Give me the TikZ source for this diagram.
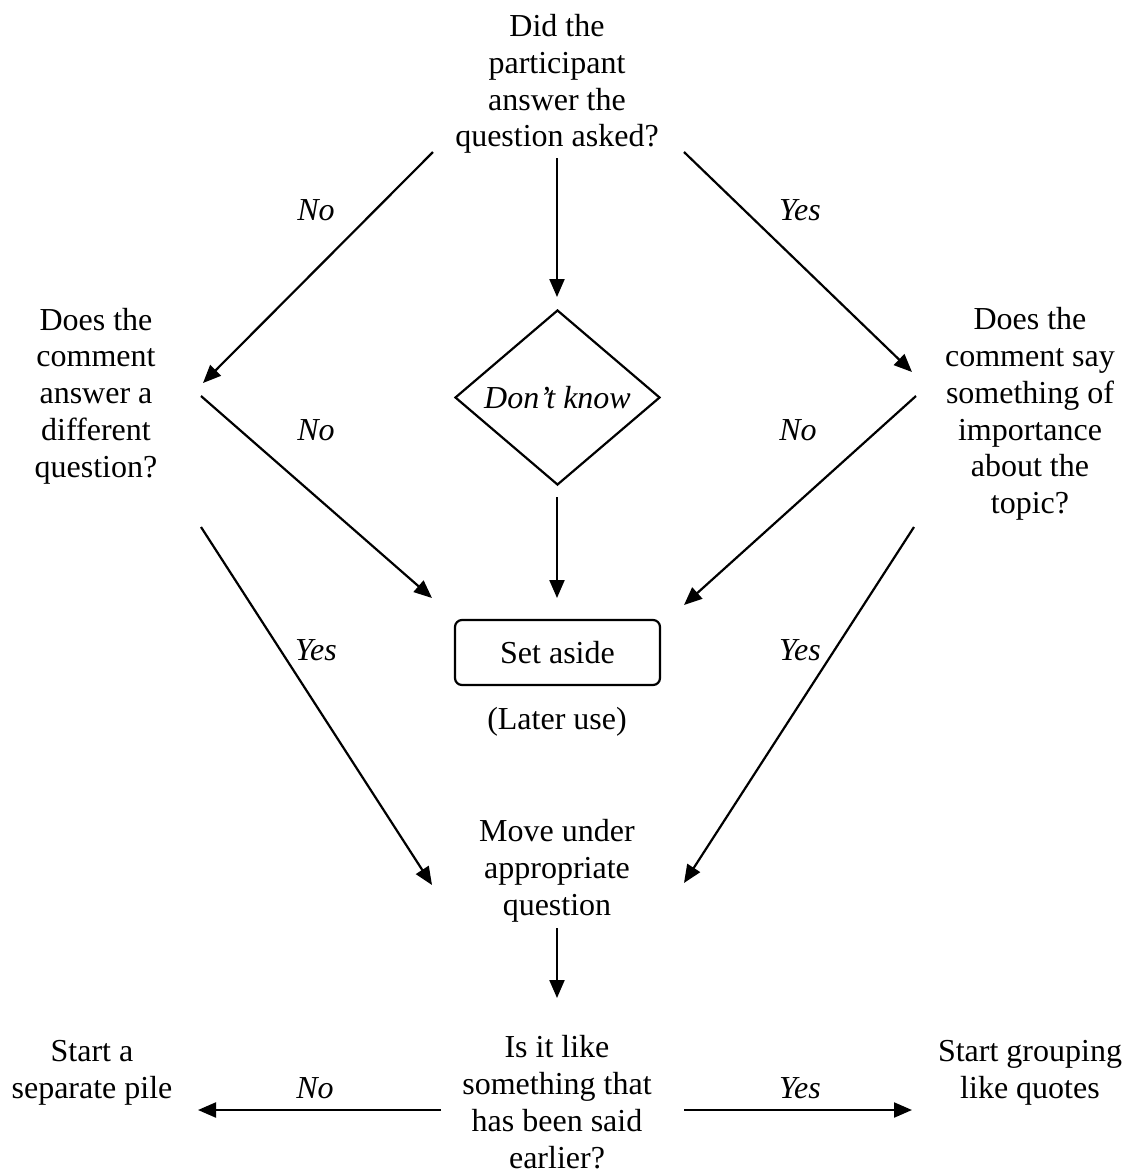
\documentclass[tikz,border=0pt]{standalone}
\usepackage{fontspec}
\setmainfont{Liberation Serif}
\usetikzlibrary{arrows.meta,shapes.geometric}
\begin{document}
\begin{tikzpicture}[x=0.5pt,y=-0.5pt,
  every node/.style={font=\fontsize{16}{18.4}\selectfont, inner sep=0pt},
  txt/.style={align=center},
  lbl/.style={font=\fontsize{16}{18.4}\selectfont\itshape},
  arr/.style={line width=1.1pt, -{Triangle[length=9pt,width=7.5pt]}},
  decision/.style={draw, line width=1.1pt, shape=diamond, aspect=1.17,
    minimum width=102.5pt, minimum height=87.5pt, font=\fontsize{16}{18.4}\selectfont\itshape},
  boxnode/.style={draw, line width=1.1pt, rounded corners=3.5pt,
    minimum width=102.5pt, minimum height=32.5pt}]
\useasboundingbox (0,0) rectangle (1128,1175);
% nodes
\node[txt] (top) at (557,84) {Did the\\participant\\answer the\\question asked?};
\node[txt] (left) at (96,396) {Does the\\comment\\answer a\\different\\question?};
\node[txt] (right) at (1030,414) {Does the\\comment say\\something of\\importance\\about the\\topic?};
\node[decision] (dk) at (557.5,397.5) {Don’t know};
\node[boxnode] (aside) at (557.5,652.5) {Set aside};
\node (later) at (557,722) {(Later use)};
\node[txt] (move) at (557,871) {Move under\\appropriate\\question};
\node[txt] (like) at (557,1102) {Is it like\\something that\\has been said\\earlier?};
\node[txt] (pile) at (92,1073) {Start a\\separate pile};
\node[txt] (group) at (1030,1073) {Start grouping\\like quotes};
% endpoints
\coordinate (a1s) at (433,152); \coordinate (a1e) at (203,383);
\coordinate (a2s) at (557,158); \coordinate (a2e) at (557,297);
\coordinate (a3s) at (684,152); \coordinate (a3e) at (912,372);
\coordinate (a4s) at (201,396); \coordinate (a4e) at (432,598);
\coordinate (a5s) at (557,497); \coordinate (a5e) at (557,598);
\coordinate (a6s) at (916,396); \coordinate (a6e) at (684,605);
\coordinate (a7s) at (201,527); \coordinate (a7e) at (432,885);
\coordinate (a8s) at (914,527); \coordinate (a8e) at (684,883);
\coordinate (a9s) at (557,928); \coordinate (a9e) at (557,998);
\coordinate (a10s) at (441,1110); \coordinate (a10e) at (198,1110);
\coordinate (a11s) at (684,1110); \coordinate (a11e) at (912,1110);
% connectors
\draw[arr] (a1s) -- (a1e);
\draw[arr] (a2s) -- (a2e);
\draw[arr] (a3s) -- (a3e);
\draw[arr] (a4s) -- (a4e);
\draw[arr] (a5s) -- (a5e);
\draw[arr] (a6s) -- (a6e);
\draw[arr] (a7s) -- (a7e);
\draw[arr] (a8s) -- (a8e);
\draw[arr] (a9s) -- (a9e);
\draw[arr] (a10s) -- (a10e);
\draw[arr] (a11s) -- (a11e);
% labels
\node[lbl] (l1) at (316,210) {No};
\node[lbl] (l2) at (800,210) {Yes};
\node[lbl] (l3) at (316,430) {No};
\node[lbl] (l4) at (798,430) {No};
\node[lbl] (l5) at (316,650) {Yes};
\node[lbl] (l6) at (800,650) {Yes};
\node[lbl] (l7) at (315,1088) {No};
\node[lbl] (l8) at (800,1088) {Yes};
\end{tikzpicture}
\end{document}
